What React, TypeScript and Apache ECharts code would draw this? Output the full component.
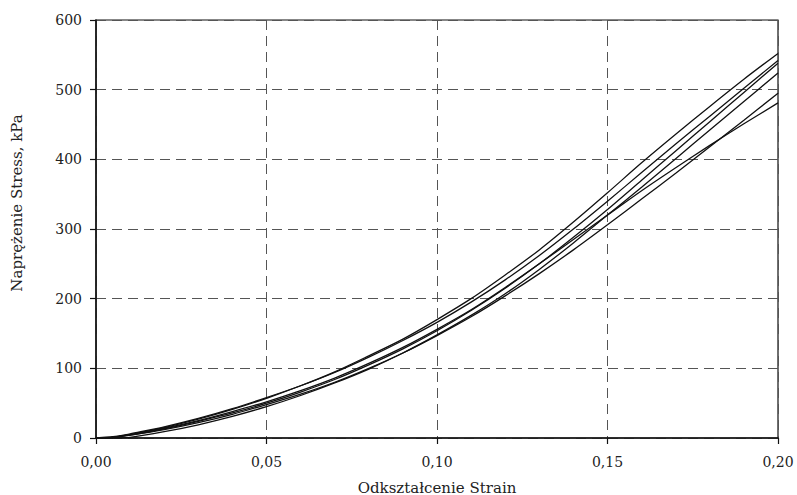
import React, { useEffect, useRef } from "react";
import * as echarts from "echarts";

const strain = [0, 0.005, 0.01, 0.02, 0.03, 0.04, 0.05, 0.06, 0.07, 0.08, 0.09, 0.1, 0.11, 0.12, 0.13, 0.14, 0.15, 0.16, 0.17, 0.18, 0.19, 0.2];
const curveA = [0, 1, 5, 15, 27, 41, 57, 75, 95, 118, 142, 170, 200, 234, 270, 310, 352, 395, 436, 476, 515, 552];
const curveB = [0, 1, 6, 16, 28, 42, 58, 75, 94, 116, 140, 166, 195, 227, 262, 300, 340, 381, 422, 462, 502, 542];
const curveC = [0, 2, 4, 13, 24, 36, 50, 66, 84, 105, 128, 154, 183, 215, 250, 288, 328, 370, 412, 454, 496, 538];
const curveD = [0, 0, 1, 9, 19, 31, 45, 61, 79, 99, 122, 148, 176, 207, 242, 280, 320, 360, 401, 442, 483, 524];
const curveE = [0, 1, 4, 12, 22, 34, 48, 63, 80, 100, 122, 147, 174, 204, 236, 270, 306, 343, 380, 418, 456, 495];
const curveF = [0, 1, 5, 14, 25, 38, 52, 68, 86, 107, 130, 156, 184, 216, 250, 285, 320, 355, 388, 420, 451, 481];
const curves = [curveA, curveB, curveC, curveD, curveE, curveF];

const xTitle = "Odkształcenie Strain";
const yTitle = "Naprężenie Stress, kPa";

const FONT = "'DejaVu Serif', 'Liberation Serif', serif";

export default function App() {
  const ref = useRef<HTMLDivElement>(null);
  useEffect(() => {
    if (!ref.current) return;
    const chart = echarts.init(ref.current, null, { renderer: "svg" });
    chart.setOption({
      animation: false,
      backgroundColor: "#fff",
      grid: {
        left: 96,
        right: 19,
        top: 20,
        bottom: 57,
        outerBoundsMode: "none",
        containLabel: false,
        show: true,
        borderColor: "#111",
        borderWidth: 1.2,
        backgroundColor: "transparent",
      },
      xAxis: {
        type: "value",
        min: 0,
        max: 0.2,
        interval: 0.05,
        name: xTitle,
        nameLocation: "middle",
        nameGap: 42,
        nameTextStyle: { fontFamily: FONT, fontSize: 15, color: "#222" },
        axisLine: { show: true, lineStyle: { color: "#111", width: 1.5 } },
        axisTick: { show: true, inside: false, length: 6, lineStyle: { color: "#111", width: 1.2 } },
        axisLabel: {
          fontFamily: FONT,
          fontSize: 14,
          color: "#222",
          margin: 17,
          formatter: (v: number) => v.toFixed(2).replace(".", ","),
        },
        splitLine: { show: true, lineStyle: { color: "#555", type: [10, 6], width: 1 } },
      },
      yAxis: {
        type: "value",
        min: 0,
        max: 600,
        interval: 100,
        name: yTitle,
        nameLocation: "middle",
        nameGap: 72,
        nameRotate: 90,
        nameTextStyle: { fontFamily: FONT, fontSize: 15, color: "#222", padding: [0, 0, 0, 52] },
        axisLine: { show: true, lineStyle: { color: "#111", width: 1.5 } },
        axisTick: { show: true, inside: false, length: 6, lineStyle: { color: "#111", width: 1.2 } },
        axisLabel: { fontFamily: FONT, fontSize: 14, color: "#222", margin: 14 },
        splitLine: { show: true, lineStyle: { color: "#555", type: [10, 6], width: 1 } },
      },
      series: curves.map((c, i) => ({
        type: "line",
        name: "s" + (i + 1),
        data: strain.map((x, j) => [x, c[j]]),
        showSymbol: false,
        smooth: 0.3,
        lineStyle: { color: "#111", width: 1.3 },
      })),
    });
    return () => chart.dispose();
  }, []);
  return (
    <div
      ref={ref}
      style={{ position: "absolute", left: 0, top: 0, width: 797, height: 495 }}
    />
  );
}
